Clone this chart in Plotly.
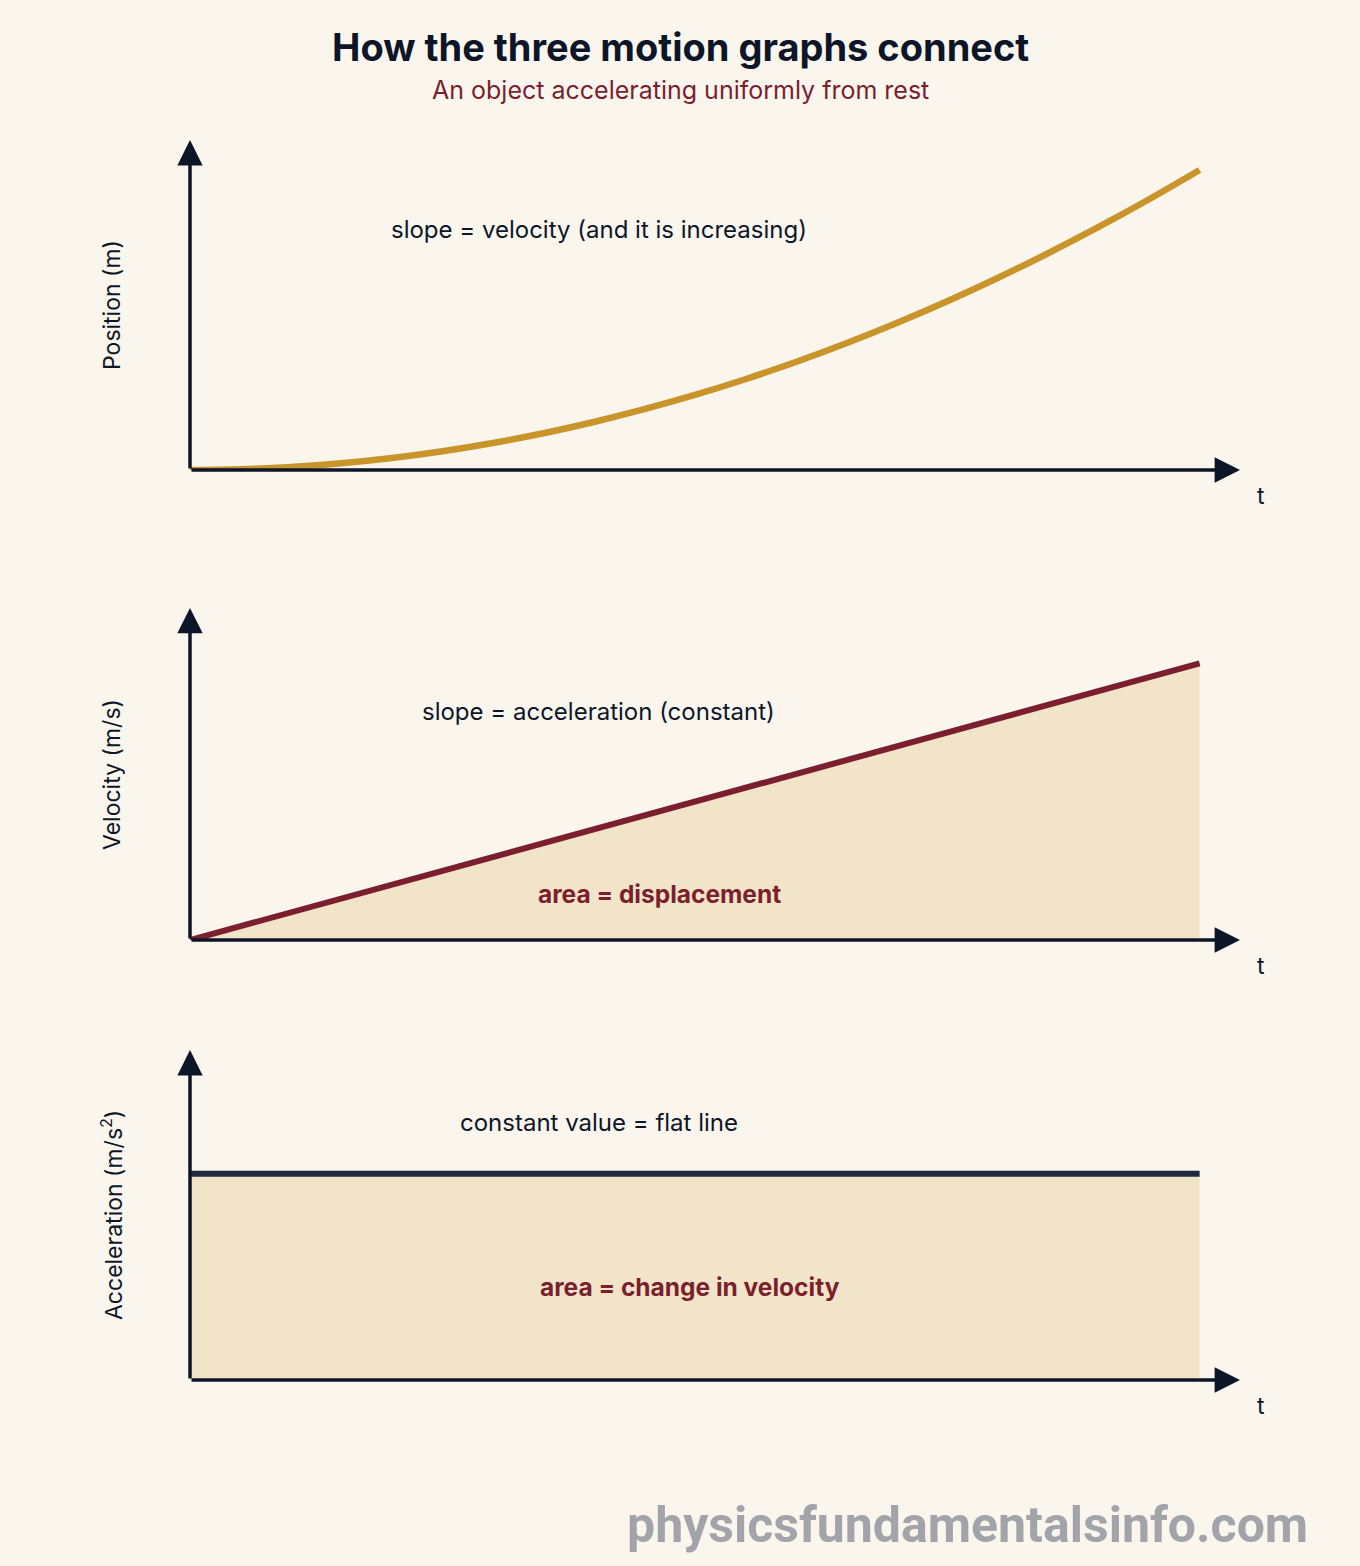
import plotly.graph_objects as go
from plotly.subplots import make_subplots

# uniform acceleration from rest, a = 2 m/s^2
t = [0, 0.5, 1, 1.5, 2, 2.5, 3, 3.5, 4, 4.5, 5, 5.5, 6, 6.5, 7, 7.5, 8, 8.5, 9, 9.5, 10]
position = [0, 0.25, 1, 2.25, 4, 6.25, 9, 12.25, 16, 20.25, 25, 30.25, 36, 42.25, 49, 56.25, 64, 72.25, 81, 90.25, 100]
velocity = [0, 1, 2, 3, 4, 5, 6, 7, 8, 9, 10, 11, 12, 13, 14, 15, 16, 17, 18, 19, 20]
acceleration = [2] * 21

y_titles = ["Position (m)", "Velocity (m/s)", "Acceleration (m/s<sup>2</sup>)"]
y_ranges = [[0, 110], [0, 24], [0, 3.2]]
x_range = [0, 10.4]

notes = ["slope = velocity (and it is increasing)", "slope = acceleration (constant)", "constant value = flat line"]
note_y = [80, 16.5, 2.5]
area_notes = [None, "area = displacement", "area = change in velocity"]
area_x = [None, 4.65, 4.95]
area_y = [None, 3.3, 0.9]

BG = "#faf6ee"
INK = "#0d1628"
GOLD = "#c9952b"
MAROON = "#7b1f2e"
NAVY = "#1f2a3c"
FILL = "#f2e4c9"
FONT = "Inter"

fig = make_subplots(rows=3, cols=1)

fig.add_trace(go.Scatter(x=t, y=position, mode="lines", line=dict(color=GOLD, width=6.5),
                         line_shape="spline", hoverinfo="skip"), row=1, col=1)
fig.add_trace(go.Scatter(x=t, y=velocity, mode="lines", line=dict(color=MAROON, width=6),
                         fill="tozeroy", fillcolor=FILL, hoverinfo="skip"), row=2, col=1)
fig.add_trace(go.Scatter(x=t, y=acceleration, mode="lines", line=dict(color=NAVY, width=6),
                         fill="tozeroy", fillcolor=FILL, hoverinfo="skip"), row=3, col=1)

domains = [[0.7339, 1.0], [0.3548, 0.6226], [0.0, 0.2661]]
annotations = []
for i in range(3):
    xa = "x" if i == 0 else f"x{i + 1}"
    ya = "y" if i == 0 else f"y{i + 1}"
    fig.update_xaxes(range=x_range, visible=False, row=i + 1, col=1)
    fig.update_yaxes(range=y_ranges[i], visible=False, domain=domains[i], row=i + 1, col=1)
    ymax = y_ranges[i][1]
    # horizontal axis arrow
    annotations.append(dict(x=x_range[1], y=0, ax=0, ay=0, xref=xa, yref=ya, axref=xa, ayref=ya,
                            showarrow=True, arrowhead=2, arrowsize=1.45, arrowwidth=3.5,
                            arrowcolor=INK, text=""))
    # vertical axis arrow
    annotations.append(dict(x=0, y=ymax, ax=0, ay=0, xref=xa, yref=ya, axref=xa, ayref=ya,
                            showarrow=True, arrowhead=2, arrowsize=1.45, arrowwidth=3.5,
                            arrowcolor=INK, text=""))
    annotations.append(dict(x=1.02, y=0, xref="paper", yref=f"{ya} domain", yshift=-26,
                            xanchor="center", yanchor="middle", showarrow=False,
                            text="t", font=dict(family=FONT, size=23, color=INK)))
    annotations.append(dict(x=-0.0743, y=0.5, xref="paper", yref=f"{ya} domain", textangle=-90,
                            xanchor="center", yanchor="middle", showarrow=False,
                            text=y_titles[i], font=dict(family=FONT, size=23, color=INK)))
    annotations.append(dict(x=4.05, y=note_y[i], xref=xa, yref=ya, showarrow=False,
                            text=notes[i], font=dict(family=FONT, size=24, color=INK)))
    if area_notes[i]:
        annotations.append(dict(x=area_x[i], y=area_y[i], xref=xa, yref=ya, showarrow=False,
                                text=f"<b>{area_notes[i]}</b>",
                                font=dict(family=FONT, size=24.5, color=MAROON)))

annotations.append(dict(x=0.4667, y=1.075, xref="paper", yref="paper", showarrow=False,
                        xanchor="center", yanchor="middle",
                        text="<b>How the three motion graphs connect</b>",
                        font=dict(family=FONT, size=38, color=INK)))
annotations.append(dict(x=0.4667, y=1.04, xref="paper", yref="paper", showarrow=False,
                        xanchor="center", yanchor="middle",
                        text="An object accelerating uniformly from rest",
                        font=dict(family=FONT, size=25, color=MAROON)))
annotations.append(dict(x=1.067, y=-0.117, xref="paper", yref="paper", showarrow=False,
                        xanchor="right", yanchor="middle", text="<b>physicsfundamentalsinfo.com</b>",
                        font=dict(family="Roboto", size=50, color="#a2a4aa")))

fig.update_layout(
    width=1360, height=1566,
    margin=dict(l=190, r=120, t=140, b=186),
    paper_bgcolor=BG, plot_bgcolor=BG,
    showlegend=False,
    annotations=annotations,
)

fig.write_html("out.html", config={"displayModeBar": False},
               post_script="document.body.style.margin='0';")
